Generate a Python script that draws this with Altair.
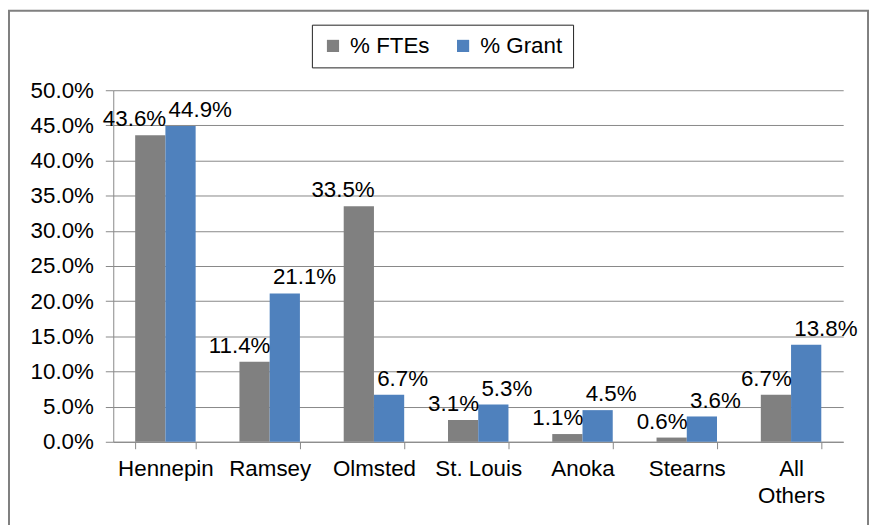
import altair as alt
import pandas as pd

categories = ["Hennepin", "Ramsey", "Olmsted", "St. Louis", "Anoka", "Stearns", "All Others"]
fte_values = [0.436, 0.114, 0.335, 0.031, 0.011, 0.006, 0.067]
grant_values = [0.449, 0.211, 0.067, 0.053, 0.045, 0.036, 0.138]
series_names = ["% FTEs", "% Grant"]
y_ticks = [0.0, 0.05, 0.10, 0.15, 0.20, 0.25, 0.30, 0.35, 0.40, 0.45, 0.50]

rows = []
for c, f, g in zip(categories, fte_values, grant_values):
    rows.append({"county": c, "series": series_names[0], "value": f})
    rows.append({"county": c, "series": series_names[1], "value": g})
df = pd.DataFrame(rows)

FONT = "Liberation Sans"
FS = 22.5
W, H = 735, 354

x_enc = alt.X(
    "county:N",
    sort=categories,
    scale=alt.Scale(paddingInner=0.42, paddingOuter=0.21),
    axis=alt.Axis(
        title=None,
        labelAngle=0,
        labelFontSize=FS,
        labelFont=FONT,
        labelColor="#000000",
        labelPadding=9,
        labelLineHeight=27,
        labelOverlap=False,
        labelExpr="datum.label == 'All Others' ? ['All', 'Others'] : datum.label",
        tickBand="extent",
        tickSize=7,
        tickColor="#888888",
        domainColor="#888888",
        grid=False,
    ),
)
y_enc = alt.Y(
    "value:Q",
    scale=alt.Scale(domain=[0, 0.5], nice=False),
    axis=alt.Axis(
        title=None,
        format=".1%",
        values=y_ticks,
        labelOverlap=False,
        labelFontSize=FS,
        labelFont=FONT,
        labelColor="#000000",
        labelPadding=12,
        tickSize=8,
        tickColor="#888888",
        domainColor="#888888",
        gridColor="#888888",
        gridWidth=1,
    ),
)
color_enc = alt.Color(
    "series:N",
    sort=series_names,
    scale=alt.Scale(domain=series_names, range=["#808080", "#4F81BD"]),
    legend=alt.Legend(
        title=None,
        orient="none",
        legendX=200,
        legendY=-66,
        direction="horizontal",
        strokeColor="#222222",
        padding=10,
        labelFontSize=FS,
        labelFont=FONT,
        labelColor="#000000",
        symbolType="square",
        symbolSize=150,
        symbolStrokeWidth=0,
        columnPadding=22,
        labelOffset=6,
    ),
)
xoff = alt.XOffset("series:N", sort=series_names)

bars = alt.Chart(df).mark_bar().encode(x=x_enc, y=y_enc, color=color_enc, xOffset=xoff)

fte_labels = alt.Chart(df).transform_filter(
    alt.datum.series == series_names[0]
).mark_text(align="right", baseline="bottom", dx=16, dy=-4, fontSize=FS, font=FONT, color="#000000").encode(
    x=x_enc,
    y=y_enc,
    xOffset=xoff,
    text=alt.Text("value:Q", format=".1%"),
)
grant_labels = alt.Chart(df).transform_filter(
    alt.datum.series == series_names[1]
).mark_text(align="left", baseline="bottom", dx=-12, dy=-4, fontSize=FS, font=FONT, color="#000000").encode(
    x=x_enc,
    y=y_enc,
    xOffset=xoff,
    text=alt.Text("value:Q", format=".1%"),
)

frame = alt.Chart(alt.Data(values=[{"k": 1}])).mark_rect(
    fillOpacity=0, stroke="#808080", strokeWidth=2
).encode(
    x=alt.value(-105), x2=alt.value(W + 25), y=alt.value(-80), y2=alt.value(H + 120)
)

chart = alt.layer(bars, fte_labels, grant_labels, frame).properties(
    width=W,
    height=H,
    autosize=alt.AutoSizeParams(type="none"),
    padding={"left": 106, "top": 81, "right": 27, "bottom": 82},
    background="#ffffff",
).configure_view(stroke=None)

chart.save("out.html", embed_options={"renderer": "svg", "actions": False})
